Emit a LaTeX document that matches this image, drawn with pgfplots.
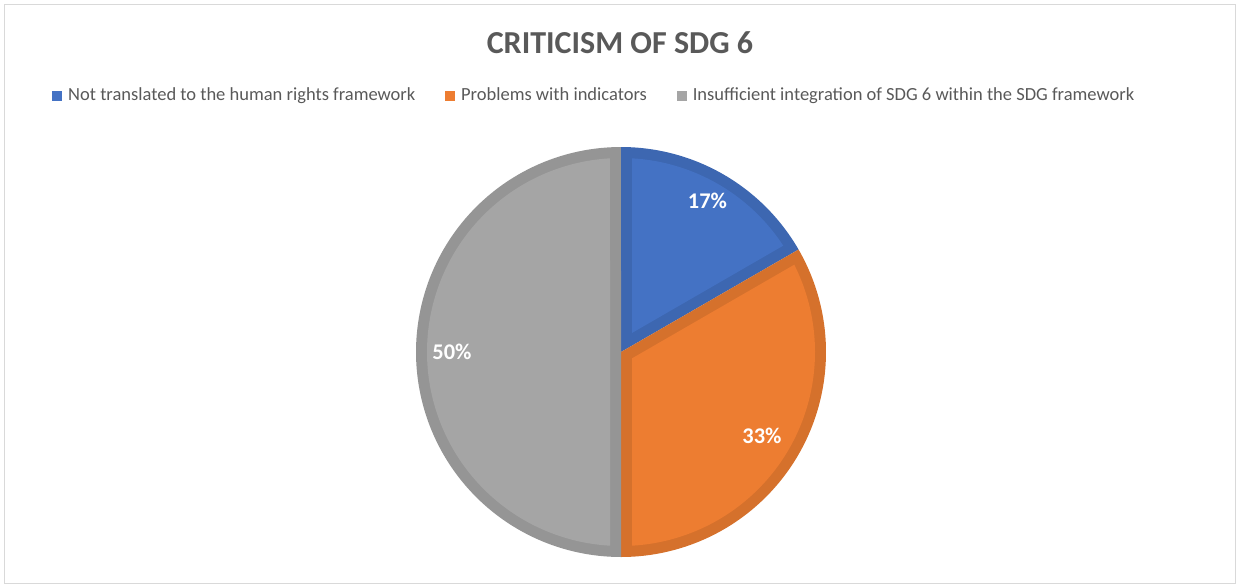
\documentclass[border=0pt]{standalone}
\usepackage{pgfplots}
\pgfplotsset{compat=1.18}
\usepackage{fontspec}
\setmainfont{Carlito}
\definecolor{sBlue}{HTML}{4472C4}
\definecolor{sBlueD}{HTML}{3D67B1}
\definecolor{sOrange}{HTML}{ED7D31}
\definecolor{sOrangeD}{HTML}{D5712C}
\definecolor{sGray}{HTML}{A5A5A5}
\definecolor{sGrayD}{HTML}{959595}
\definecolor{txt}{HTML}{595959}
\definecolor{framec}{HTML}{D9D9D9}
\begin{document}
\begin{tikzpicture}
% data (percent)
\def\vA{16.67}% Not translated to the human rights framework
\def\vB{33.33}% Problems with indicators
\def\vC{50.00}% Insufficient integration of SDG 6 within the SDG framework
% geometry (pixels)
\def\cx{621}\def\cy{234}\def\R{205}\def\d{11}
\pgfmathsetmacro\total{\vA+\vB+\vC}
\pgfmathsetmacro\r{\R-\d}
\pgfmathsetmacro\da{asin(\d/\r)}
\pgfmathsetmacro\aAe{90}
\pgfmathsetmacro\aAs{\aAe-(\vA/\total)*360}
\pgfmathsetmacro\aBe{\aAs}
\pgfmathsetmacro\aBs{\aBe-(\vB/\total)*360}
\pgfmathsetmacro\aCe{\aBs}
\pgfmathsetmacro\aCs{\aCe-(\vC/\total)*360}
% inner (lighter) regions
\pgfmathsetmacro\iAs{\aAs+\da}\pgfmathsetmacro\iAe{\aAe-\da}
\pgfmathsetmacro\iBs{\aBs+\da}\pgfmathsetmacro\iBe{\aBe-\da}
\pgfmathsetmacro\iCs{\aCs+\da}\pgfmathsetmacro\iCe{\aCe-\da}
\pgfmathsetmacro\kAx{\cx+\d/sin((\aAe-\aAs)/2)*cos((\aAs+\aAe)/2)}
\pgfmathsetmacro\kAy{\cy+\d/sin((\aAe-\aAs)/2)*sin((\aAs+\aAe)/2)}
\pgfmathsetmacro\kBx{\cx+\d/sin((\aBe-\aBs)/2)*cos((\aBs+\aBe)/2)}
\pgfmathsetmacro\kBy{\cy+\d/sin((\aBe-\aBs)/2)*sin((\aBs+\aBe)/2)}
\pgfmathsetmacro\kCx{\cx+\d/sin((\aCe-\aCs)/2)*cos((\aCs+\aCe)/2)}
\pgfmathsetmacro\kCy{\cy+\d/sin((\aCe-\aCs)/2)*sin((\aCs+\aCe)/2)}
\begin{axis}[
  x=0.5pt, y=0.5pt, xmin=0, xmax=1237, ymin=0, ymax=586,
  anchor=origin, at={(0,0)},
  hide axis, clip=false,
  every axis title shift=0pt,
  title={CRITICISM OF SDG 6},
  title style={at={(0.50121,0.92662)}, anchor=center, inner sep=0pt,
    font=\bfseries\fontsize{16}{19}\selectfont, text=txt},
  legend columns=3, legend cell align=left,
  legend style={at={(axis cs:52,490.5)}, anchor=west, draw=none, fill=none,
    inner sep=0pt, font=\fontsize{9.25}{11}\selectfont, text=txt,
    nodes={inner sep=0pt},
    /tikz/every odd column/.append style={column sep=3pt},
    /tikz/every even column/.append style={column sep=15pt}},
]
\addlegendimage{legend image code/.code={\fill[sBlue] (0pt,-2.25pt) rectangle (4.5pt,2.25pt);}}
\addlegendentry{Not translated to the human rights framework}
\addlegendimage{legend image code/.code={\fill[sOrange] (0pt,-2.25pt) rectangle (4.5pt,2.25pt);}}
\addlegendentry{Problems with indicators}
\addlegendimage{legend image code/.code={\fill[sGray] (0pt,-2.25pt) rectangle (4.5pt,2.25pt);}}
\addlegendentry{Insufficient integration of SDG 6 within the SDG framework}
% slices
\addplot[fill=sBlueD, draw=none, domain=\aAs:\aAe, samples=80, forget plot]
  ({\cx+\R*cos(x)},{\cy+\R*sin(x)}) -- (axis cs:\cx,\cy) -- cycle;
\addplot[fill=sBlue, draw=none, domain=\iAs:\iAe, samples=80, forget plot]
  ({\cx+\r*cos(x)},{\cy+\r*sin(x)}) -- (axis cs:\kAx,\kAy) -- cycle;
\addplot[fill=sOrangeD, draw=none, domain=\aBs:\aBe, samples=120, forget plot]
  ({\cx+\R*cos(x)},{\cy+\R*sin(x)}) -- (axis cs:\cx,\cy) -- cycle;
\addplot[fill=sOrange, draw=none, domain=\iBs:\iBe, samples=120, forget plot]
  ({\cx+\r*cos(x)},{\cy+\r*sin(x)}) -- (axis cs:\kBx,\kBy) -- cycle;
\addplot[fill=sGrayD, draw=none, domain=\aCs:\aCe, samples=160, forget plot]
  ({\cx+\R*cos(x)},{\cy+\R*sin(x)}) -- (axis cs:\cx,\cy) -- cycle;
\addplot[fill=sGray, draw=none, domain=\iCs:\iCe, samples=160, forget plot]
  ({\cx+\r*cos(x)},{\cy+\r*sin(x)}) -- (axis cs:\kCx,\kCy) -- cycle;
% data labels
\node[text=white, font=\bfseries\fontsize{11.2}{13}\selectfont] at (axis cs:707.5,385) {17\%};
\node[text=white, font=\bfseries\fontsize{11.2}{13}\selectfont] at (axis cs:762,150) {33\%};
\node[text=white, font=\bfseries\fontsize{11.2}{13}\selectfont] at (axis cs:452,234) {50\%};
% chart frame
\draw[framec, line width=0.75pt] (axis cs:4.5,2.5) rectangle (axis cs:1235.5,581.5);
\coordinate (SW) at (axis cs:0,0);
\coordinate (NE) at (axis cs:1237,586);
\end{axis}
\pgfresetboundingbox
\path (SW) rectangle (NE);
\end{tikzpicture}
\end{document}
